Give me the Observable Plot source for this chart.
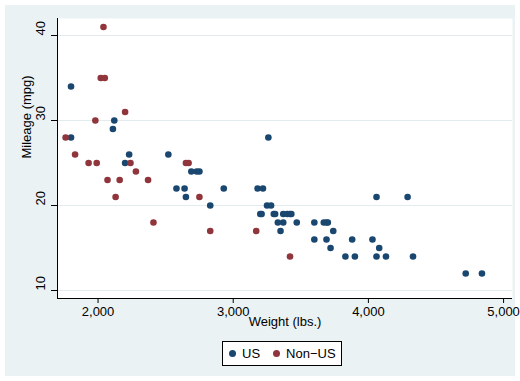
<!DOCTYPE html>
<html><head><meta charset="utf-8">
<script src="https://cdn.jsdelivr.net/npm/d3@7"></script>
<script src="https://cdn.jsdelivr.net/npm/@observablehq/plot@0.6"></script>
<style>
body{margin:0;background:#fff;font-family:"Liberation Sans",Arial,sans-serif;}
#wrap{position:absolute;left:5px;top:5px;width:510px;height:371px;background:#EAF2F3;}
#wrap svg{overflow:visible;}
#legend{position:absolute;left:217px;top:336px;height:23px;border:1px solid #000;background:#fff;display:flex;align-items:center;padding:0 5px 0 6px;font-size:13px;color:#000;}
#legend .dot{display:inline-block;width:7px;height:7px;border-radius:50%;margin-right:6px;}
#legend .item{display:flex;align-items:center;margin-right:13px;}
#legend .item:last-child{margin-right:0;}
</style></head>
<body><div id="wrap"></div>
<script>
const usWeight = [2930,3350,2640,3250,4080,3670,2230,3280,3880,3400,4330,3900,4290,2110,3690,3180,3220,2750,3430,2120,3600,3600,3740,1800,2650,4840,4720,3830,2580,4060,3720,3370,4130,2830,4060,3310,3300,3690,3370,2730,4030,3260,1800,2200,2520,3330,3700,3470,3210,3200,3420,2690];
const usMpg = [22,17,22,20,15,18,26,20,16,19,14,14,21,29,16,22,22,24,19,30,18,16,17,28,21,12,12,14,22,14,15,18,14,20,21,19,19,18,19,24,16,28,34,25,26,18,18,18,19,19,19,24];
const nonUsWeight = [2830,2070,2650,2370,2020,2280,2750,2130,2240,1760,1980,3420,1830,2050,2410,2200,2670,2160,2040,1930,1990,3170];
const nonUsMpg = [17,23,25,23,35,24,21,21,25,28,30,14,26,35,18,31,25,23,41,25,25,17];
const groups = ["US","Non\u2212US"];
const colors = ["#1a476f","#90353b"];
const yTicks = [10,20,30,40];
const xTicks = [2000,3000,4000,5000];

const data = [
  ...usWeight.map((w,i)=>({weight:w, mpg:usMpg[i], origin:groups[0]})),
  ...nonUsWeight.map((w,i)=>({weight:w, mpg:nonUsMpg[i], origin:groups[1]}))
];
const fmt = d3.format(",");

const chart = Plot.plot({
  width:510, height:333,
  marginLeft:52, marginRight:3, marginTop:13, marginBottom:40,
  style:{fontFamily:'"Liberation Sans",Arial,sans-serif', fontSize:"13px", color:"#000", background:"transparent", overflow:"visible"},
  x:{domain:[1700,5066], label:null},
  y:{domain:[9.06,42.0], label:null},
  color:{domain:groups, range:colors},
  marks:[
    Plot.frame({fill:"#fff", stroke:null}),
    Plot.ruleY(yTicks, {stroke:"#E2ECEE", strokeWidth:1}),
    Plot.axisX({ticks:xTicks, tickSize:5, tickPadding:3, tickFormat:fmt, fontSize:13, label:null, stroke:"#000"}),
    Plot.axisY({ticks:yTicks, tickSize:6, tickFormat:()=>"", label:null, stroke:"#000"}),
    Plot.text(yTicks, {y:d=>d, frameAnchor:"left", dx:-17, rotate:-90, text:d=>String(d), fontSize:13, fill:"#000"}),
    Plot.text(["Mileage (mpg)"], {frameAnchor:"left", dx:-31, rotate:-90, text:d=>d, fontSize:13, fill:"#000"}),
    Plot.text(["Weight (lbs.)"], {frameAnchor:"bottom", dy:27, text:d=>d, fontSize:13, fill:"#000"}),
    Plot.ruleX(data.slice(0,1), {x:()=>1700, stroke:"#000"}),
    Plot.ruleY(data.slice(0,1), {y:()=>9.06, stroke:"#000"}),
    Plot.dot(data, {x:"weight", y:"mpg", fill:"origin", r:3.3, stroke:null})
  ]
});
const wrap = document.getElementById("wrap");
wrap.appendChild(chart);
const leg = document.createElement("div");
leg.id = "legend";
groups.forEach((g,i)=>{
  const it = document.createElement("span"); it.className="item";
  const d = document.createElement("span"); d.className="dot"; d.style.background=colors[i];
  it.appendChild(d); it.appendChild(document.createTextNode(g));
  leg.appendChild(it);
});
wrap.appendChild(leg);
</script></body></html>
